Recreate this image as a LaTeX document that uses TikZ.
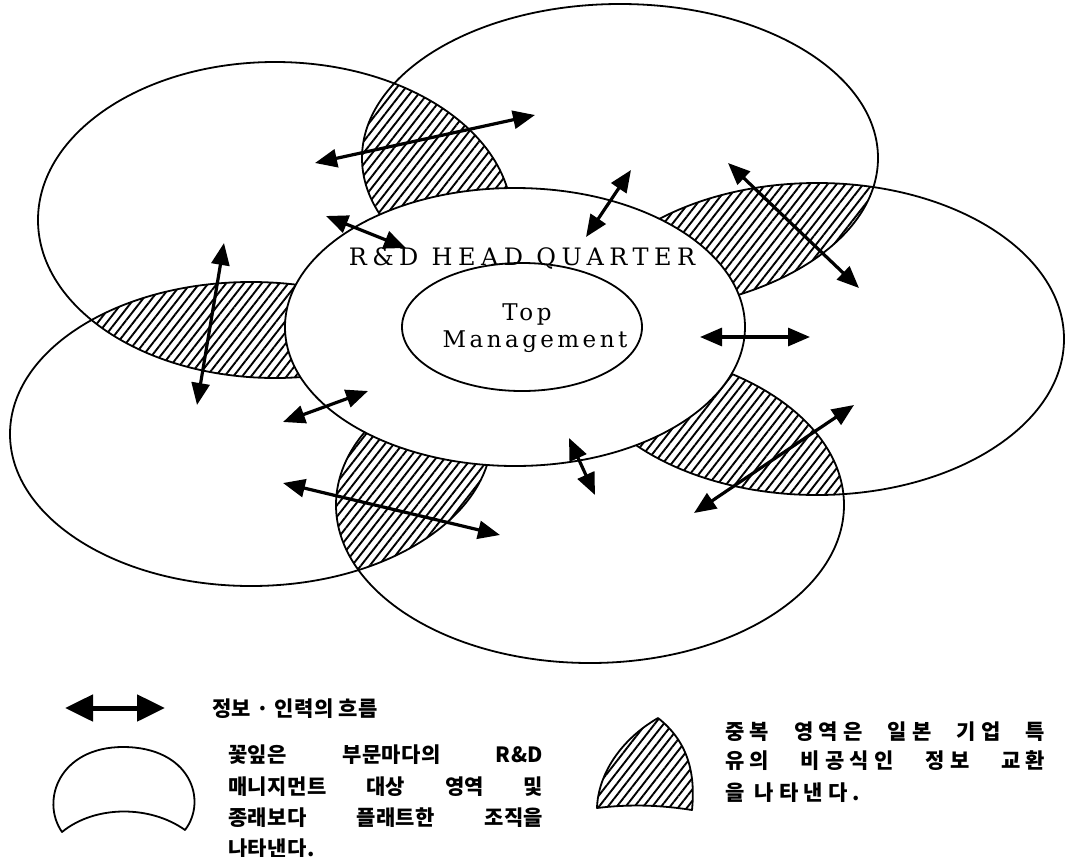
\documentclass[tikz,border=0pt]{standalone}
\usepackage{fontspec}
\newfontfamily\krA[LetterSpace=2]{Noto Sans CJK KR}
\newfontfamily\krB[LetterSpace=25]{Noto Sans CJK KR}
\newfontfamily\latw[LetterSpace=23]{DejaVu Serif}
\newfontfamily\latm[LetterSpace=15]{DejaVu Serif}
\usetikzlibrary{arrows.meta,patterns.meta}
\tikzset{
  PA/.style={insert path={(275,220) ellipse [x radius=237, y radius=158]}},
  PB/.style={insert path={(620,158) ellipse [x radius=258, y radius=154]}},
  PC/.style={insert path={(817,339) ellipse [x radius=247, y radius=156]}},
  PD/.style={insert path={(590,505) ellipse [x radius=254, y radius=158]}},
  PE/.style={insert path={(251,434) ellipse [x radius=241, y radius=152]}},
  petal/.style={draw=black, line width=1.8pt},
  hatch/.style={pattern={Lines[angle=52,distance=7pt,line width=1.9pt]}},
  flow/.style={line width=3.2pt, {Triangle[length=22pt,width=18pt]}-{Triangle[length=22pt,width=18pt]}},
  bigflow/.style={line width=5pt, {Triangle[length=28pt,width=26pt]}-{Triangle[length=28pt,width=26pt]}},
  krl/.style={anchor=base west, inner sep=0pt, font=\krA\bfseries\fontsize{21}{24}\selectfont},
  krr/.style={anchor=base west, inner sep=0pt, font=\krB\bfseries\fontsize{21}{24}\selectfont},
}
\begin{document}
\begin{tikzpicture}[x=1pt,y=-1pt,line join=round]
\useasboundingbox (0,0) rectangle (1066,857);
% overlap (hatched) regions
\begin{scope}\clip[PA]; \fill[hatch,PB];\end{scope}
\begin{scope}\clip[PB]; \fill[hatch,PC];\end{scope}
\begin{scope}\clip[PC]; \fill[hatch,PD];\end{scope}
\begin{scope}\clip[PD]; \fill[hatch,PE];\end{scope}
\begin{scope}\clip[PE]; \fill[hatch,PA];\end{scope}
% petals
\path[petal,PA];
\path[petal,PB];
\path[petal,PC];
\path[petal,PD];
\path[petal,PE];
% headquarter and top management
\filldraw[fill=white, line width=1.8pt] (515,327) ellipse [x radius=230, y radius=139];
\draw[line width=1.8pt] (522,327) ellipse [x radius=120, y radius=64];
\node[font=\latw\fontsize{24}{28}\selectfont, inner sep=0pt, anchor=base] (hq) at (522,265) {R\&D HEAD QUARTER};
\node[font=\latm\fontsize{23}{28}\selectfont, inner sep=0pt, anchor=base] (tm1) at (527,320) {Top};
\node[font=\latm\fontsize{23}{28}\selectfont, inner sep=0pt, anchor=base] (tm2) at (535,347) {Management};
% flows
\coordinate (a1s) at (315,163); \coordinate (a1e) at (535,115);
\coordinate (a2s) at (326,216); \coordinate (a2e) at (406,248);
\coordinate (a3s) at (586,237); \coordinate (a3e) at (631,170);
\coordinate (a4s) at (728,163); \coordinate (a4e) at (859,288);
\coordinate (a5s) at (224,243); \coordinate (a5e) at (197,405);
\coordinate (a6s) at (700,337); \coordinate (a6e) at (810,337);
\coordinate (a7s) at (283,422); \coordinate (a7e) at (368,391);
\coordinate (a8s) at (569,438); \coordinate (a8e) at (595,495);
\coordinate (a9s) at (694,513); \coordinate (a9e) at (854,405);
\coordinate (a10s) at (283,483); \coordinate (a10e) at (500,535);
\foreach \i in {1,...,10} {\draw[flow] (a\i s) -- (a\i e);}
% legend
\coordinate (ls) at (65,708); \coordinate (le) at (165,708);
\draw[bigflow] (ls) -- (le);
\node[krl] (l1) at (212,716) {정보 · 인력의 흐름};
\draw[line width=1.8pt] (62,832) .. controls (40,800) and (60,747) .. (123,747)
   .. controls (190,747) and (208,800) .. (185,830)
   .. controls (150,805) and (95,805) .. (62,832) -- cycle;
\node[krl] (l2a) at (228,762) {\makebox[315pt][s]{꽃잎은 부문마다의 R\&D}};
\node[krl] (l2b) at (228,794) {\makebox[315pt][s]{매니지먼트 대상 영역 및}};
\node[krl] (l2c) at (228,825) {\makebox[315pt][s]{종래보다 플래트한 조직을}};
\node[krl] (l2d) at (228,856) {나타낸다.};
\filldraw[hatch, line width=1.8pt] (658,718) .. controls (620,740) and (598,775) .. (597,808)
   .. controls (630,804) and (660,805) .. (692,810)
   .. controls (696,770) and (686,740) .. (658,718) -- cycle;
\node[krr] (l3a) at (725,739) {\makebox[320pt][s]{중복 영역은 일본 기업 특}};
\node[krr] (l3b) at (725,768) {\makebox[320pt][s]{유의 비공식인 정보 교환}};
\node[krr] (l3c) at (725,800) {을 나타낸다.};
\end{tikzpicture}
\end{document}
